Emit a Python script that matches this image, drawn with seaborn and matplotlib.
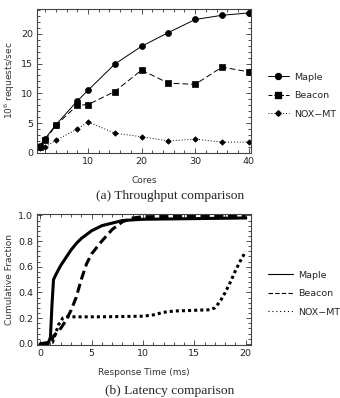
import numpy as np
import pandas as pd
import matplotlib as mpl
import matplotlib.pyplot as plt
import seaborn as sns
from matplotlib.ticker import AutoMinorLocator

sns.set_style("ticks")
plt.rcParams['font.family'] = ['DejaVu Sans']
mpl.rcParams['axes.unicode_minus'] = False

# throughput data
cores = [1, 2, 4, 8, 10, 15, 20, 25, 30, 35, 40]
maple_tp = [1.2, 2.4, 4.7, 8.7, 10.5, 14.9, 17.9, 20.2, 22.4, 23.1, 23.5]
beacon_tp = [1.0, 2.1, 4.6, 8.0, 8.1, 10.3, 13.9, 11.7, 11.5, 14.4, 13.6]
nox_tp = [0.8, 1.0, 2.1, 4.0, 5.2, 3.3, 2.7, 2.0, 2.3, 1.8, 1.8]

# latency CDF data
maple_t = [0, 0.8, 1.0, 1.15, 1.3, 1.6, 2.0, 2.5, 3.0, 3.5, 4.0, 5.0, 6.0, 7.0, 8.0, 10.0, 15.0, 20.0]
maple_f = [0.0, 0.01, 0.05, 0.3, 0.5, 0.55, 0.61, 0.67, 0.73, 0.78, 0.82, 0.88, 0.92, 0.94, 0.96, 0.97, 0.975, 0.98]
beacon_t = [0, 1.0, 1.3, 2.0, 2.5, 3.0, 3.5, 4.0, 4.5, 5.0, 6.0, 7.0, 8.0, 9.0, 10.0, 20.0]
beacon_f = [0.0, 0.0, 0.06, 0.12, 0.18, 0.26, 0.36, 0.5, 0.62, 0.7, 0.8, 0.89, 0.95, 0.98, 0.99, 0.995]
nox_t = [0, 1.2, 1.5, 1.8, 2.2, 2.6, 3.0, 6.0, 10.0, 11.0, 12.0, 13.0, 16.5, 17.0, 17.5, 18.0, 18.5, 19.0, 19.5, 20.0]
nox_f = [0.0, 0.01, 0.08, 0.15, 0.2, 0.21, 0.21, 0.21, 0.215, 0.225, 0.245, 0.255, 0.265, 0.28, 0.33, 0.4, 0.48, 0.57, 0.65, 0.72]

names = ["Maple", "Beacon", "NOX\u2212MT"]

fig = plt.figure(figsize=(3.4, 3.98), dpi=100)
ax1 = fig.add_axes([0.109, 0.616, 0.629, 0.362])
ax2 = fig.add_axes([0.109, 0.133, 0.629, 0.329])

tp = pd.DataFrame({"Cores": cores * 3,
                   "val": maple_tp + beacon_tp + nox_tp,
                   "name": [names[0]] * len(cores) + [names[1]] * len(cores) + [names[2]] * len(cores)})
sns.lineplot(data=tp, x="Cores", y="val", hue="name", style="name",
             markers={names[0]: "o", names[1]: "s", names[2]: "D"},
             dashes={names[0]: "", names[1]: (6, 3), names[2]: (1, 2)},
             palette=["black"] * 3, linewidth=0.7, ax=ax1, legend=False)
for ln, ms in zip(ax1.get_lines(), [4.3, 4.0, 2.8]):
    ln.set_markersize(ms)
    ln.set_markeredgecolor("black")
    ln.set_markeredgewidth(0.5)

lat = pd.DataFrame({"t": maple_t + beacon_t + nox_t,
                    "f": maple_f + beacon_f + nox_f,
                    "name": [names[0]] * len(maple_t) + [names[1]] * len(beacon_t) + [names[2]] * len(nox_t)})
sns.lineplot(data=lat, x="t", y="f", hue="name", style="name",
             dashes={names[0]: "", names[1]: (3, 1.5), names[2]: (1, 1)},
             palette=["black"] * 3, linewidth=2.2, ax=ax2, legend=False)

ax1.set_xlim(0.5, 40.4)
ax1.set_ylim(0, 24.2)
ax1.set_xticks([10, 20, 30, 40])
ax1.set_yticks([0, 5, 10, 15, 20])
ax1.set_xlabel("Cores", fontsize=6.5, labelpad=7, color="#333333")
ax1.set_ylabel("10$^6$ requests/sec", fontsize=6.5, labelpad=3, color="#333333")

ax2.set_xlim(-0.3, 20.5)
ax2.set_ylim(-0.01, 1.01)
ax2.set_xticks([0, 5, 10, 15, 20])
ax2.set_yticks([0.0, 0.2, 0.4, 0.6, 0.8, 1.0])
ax2.set_yticklabels(["0.0", "0.2", "0.4", "0.6", "0.8", "1.0"])
ax2.set_xlabel("Response Time (ms)", fontsize=6.5, labelpad=7, color="#333333")
ax2.set_ylabel("Cumulative Fraction", fontsize=6.5, labelpad=3, color="#333333")

for ax in (ax1, ax2):
    ax.xaxis.set_minor_locator(AutoMinorLocator(5))
    ax.yaxis.set_minor_locator(AutoMinorLocator(5))
    ax.tick_params(which="both", direction="in", top=True, right=True,
                   labelsize=6.8, colors="#333333", labelcolor="#222222", width=0.6, pad=3)
    ax.tick_params(which="major", length=3.5)
    ax.tick_params(which="minor", length=2)
    for s in ax.spines.values():
        s.set_color("#444444")
        s.set_linewidth(0.8)

# legends
h1 = [mpl.lines.Line2D([], [], color="black", lw=0.7, marker="o", ms=4.3),
      mpl.lines.Line2D([], [], color="black", lw=0.7, ls=(0, (4, 2)), marker="s", ms=4),
      mpl.lines.Line2D([], [], color="black", lw=0.7, ls=(0, (1, 2)), marker="D", ms=2.8)]
ax1.legend(h1, names, loc="center left", bbox_to_anchor=(1.04, 0.397), frameon=False,
           fontsize=6.8, handlelength=2.2, labelspacing=1.0, handletextpad=0.6)
h2 = [mpl.lines.Line2D([], [], color="black", lw=0.8),
      mpl.lines.Line2D([], [], color="black", lw=0.8, ls=(0, (4, 2))),
      mpl.lines.Line2D([], [], color="black", lw=0.8, ls=(0, (1, 2.5)))]
ax2.legend(h2, names, loc="center left", bbox_to_anchor=(1.04, 0.393), frameon=False,
           fontsize=6.8, handlelength=2.6, labelspacing=1.0, handletextpad=0.6)

fig.text(0.5, 0.508, "(a) Throughput comparison", ha="center", va="center",
         family="Liberation Serif", fontsize=9.7)
fig.text(0.5, 0.018, "(b) Latency comparison", ha="center", va="center",
         family="Liberation Serif", fontsize=9.7)

fig.savefig("out.png", dpi=100)
